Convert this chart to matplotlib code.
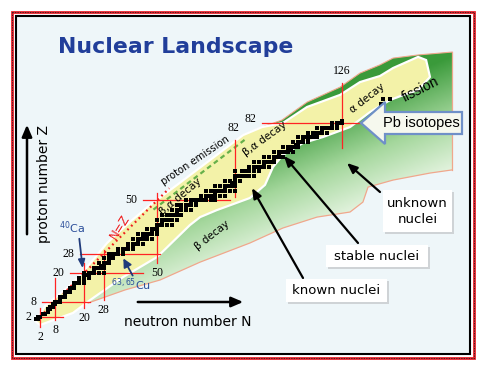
import numpy as np
import matplotlib
matplotlib.use("Agg")
import matplotlib.pyplot as plt
from matplotlib.patches import Polygon, Rectangle
from matplotlib.transforms import Affine2D
from matplotlib.colors import LinearSegmentedColormap

# ---------------- data (N = neutron number, Z = proton number) ----------------
# stable nuclides: neutron numbers for Z = 1..83
stable_Z = list(range(1, 84))
stable_N = [
    [0, 1], [1, 2], [3, 4], [5], [5, 6], [6, 7], [7, 8], [8, 9, 10], [10], [10, 11, 12],
    [12], [12, 13, 14], [14], [14, 15, 16], [16], [16, 17, 18, 20], [18, 20], [18, 20, 22],
    [20, 21, 22], [20, 22, 23, 24, 26, 28], [24], [24, 25, 26, 27, 28], [27, 28],
    [26, 28, 29, 30], [30], [28, 30, 31, 32], [32], [30, 32, 33, 34, 36], [34, 36],
    [34, 36, 37, 38, 40], [38, 40], [38, 40, 41, 42, 44], [42], [40, 42, 43, 44, 46, 48],
    [44, 46], [42, 44, 46, 47, 48, 50], [48, 50], [46, 48, 49, 50], [50],
    [50, 51, 52, 54, 56], [52], [50, 52, 53, 54, 55, 56, 58], [],
    [52, 54, 55, 56, 57, 58, 60], [58], [56, 58, 59, 60, 62, 64], [60, 62],
    [58, 60, 62, 63, 64, 66], [64, 66], [62, 64, 65, 66, 67, 68, 69, 70, 72, 74], [70, 72],
    [68, 70, 71, 72, 74, 76, 78], [74], [70, 72, 74, 75, 76, 77, 78, 80, 82], [78],
    [74, 76, 78, 79, 80, 81, 82], [81, 82], [78, 80, 82, 84], [82],
    [82, 83, 84, 85, 86, 88, 90], [], [82, 85, 86, 87, 88, 90, 92], [88, 90],
    [88, 90, 91, 92, 93, 94, 96], [94], [90, 92, 94, 95, 96, 97, 98], [98],
    [94, 96, 98, 99, 100, 102], [100], [98, 100, 101, 102, 103, 104, 106], [104, 105],
    [102, 104, 105, 106, 107, 108], [107, 108], [106, 108, 109, 110, 112], [110, 112],
    [108, 110, 111, 112, 113, 114, 116], [114, 116], [112, 114, 116, 117, 118, 120], [118],
    [116, 118, 119, 120, 121, 122, 124], [122, 124], [122, 124, 125, 126], [126],
]
# long-lived heavy nuclei (Th, U) near "fission"
heavy_N = [142, 143, 146]
heavy_Z = [90, 92, 92]

# known nuclei (yellow band) outline
known_N = [0, 3.9, 12.9, 17.4, 25.3, 29.4, 38.8, 47.1, 58.2, 71.8, 85.4, 93.2, 101.8,
           111.7, 125.3, 133.5, 141.7, 147.1, 157.4, 160.7, 162.3, 157.4, 151.2,
           145.9, 137.6, 129.4, 118.3, 110.0, 101.8, 97.7, 94.4, 88.2, 74.6, 67.7,
           63.5, 50.0, 36.0, 22.4, 15.4, 1.8]
known_Z = [0, 6.4, 13.8, 17.9, 27.4, 32.4, 41.1, 48.1, 56.4, 66.7, 77.0, 80.3, 82.0,
           88.6, 93.6, 98.9, 101.4, 104.7, 109.3, 108.0, 101.0, 95.6, 93.5,
           91.5, 86.5, 80.3, 76.2, 73.7, 68.8, 63.8, 56.4, 51.0, 46.0, 43.1,
           39.8, 26.6, 18.3, 8.8, 3.5, -1.5]

# unknown nuclei (green region) outline: neutron-rich edge then upper edge
unknown_N = [21.6, 36.8, 51.2, 67.7, 88.2, 101.8, 115.8, 129.4, 134.7, 136.8, 147.1,
             162.3, 171.4, 171.4, 157.4, 147.1, 141.7, 133.5, 125.3, 111.7, 101.4,
             93.2, 85.4, 47.1, 21.6]
unknown_Z = [7.6, 13.0, 17.1, 24.5, 32.4, 38.6, 43.1, 45.2, 49.3, 55.5, 58.4,
             61.3, 62.6, 111.3, 110.1, 108.8, 106.0, 102.6, 96.8, 90.6, 83.2,
             80.3, 77.0, 48.1, 12.9]
n_edge = 13  # number of points on the neutron-rich edge

# proton emission line
pemit_N = [48.5, 86.0]
pemit_Z = [46.2, 75.0]

# N = Z line
nz_line = [2, 55]

# magic numbers
z_magic = [2, 8, 20, 28, 50, 82]
z_magic_nmin = [0.6, 2.6, 14.2, 18.3, 44.2, 93.2]
z_magic_nmax = [11.3, 22.4, 44.2, 51.0, 80.0, 133.5]
n_magic = [2, 8, 20, 28, 50, 82, 126]
n_magic_zmin = [-2.3, 0.6, 5.5, 8.8, 24.0, 51.3, 71.7]
n_magic_zmax = [5.5, 17.9, 24.1, 29.5, 53.0, 75.0, 98.5]

# ---------------- figure ----------------
W, H = 500, 370
fig = plt.figure(figsize=(5, 3.7), dpi=100)
fig.patch.set_facecolor('white')
ax = fig.add_axes([0, 0, 1, 1])
ax.set_axis_off()
PXN, PXZ, X0, Y0 = 2.43, 2.42, 35.6, 321.4
xl = ((0 - X0) / PXN, (W - X0) / PXN)
yl = ((Y0 - H) / PXZ, (Y0 - 0) / PXZ)
ax.set_xlim(*xl)
ax.set_ylim(*yl)
ax.set_autoscale_on(False)
P = Affine2D().scale(1 / W, -1 / H).translate(0, 1) + fig.transFigure

# frame
ax.add_patch(Rectangle((15, 15), 455, 339, transform=P, fc='#eef6f9', ec='none', zorder=0))
ax.add_patch(Rectangle((11.5, 11.5), 462, 346, transform=P, fill=False, ec='#e8202a',
                       lw=2.0, zorder=0.5))
ax.add_patch(Rectangle((11.5, 11.5), 462, 346, transform=P, fill=False, ec='#222222',
                       lw=0.6, ls=(0, (1.5, 1.5)), zorder=0.6))
ax.add_patch(Rectangle((15.5, 15.5), 454, 338, transform=P, fill=False, ec='black',
                       lw=1.5, zorder=0.7))

# green unknown region with gradient
gpatch = Polygon(np.column_stack([unknown_N, unknown_Z]), closed=True, fc='none',
                 ec='none', zorder=1)
ax.add_patch(gpatch)
xx, yy = np.meshgrid(np.linspace(0, W, W), np.linspace(0, H, H))
tt = np.clip(0.6 - 0.0081 * (yy - 110) - 0.0034 * (xx - 440), 0, 1)
gcmap = LinearSegmentedColormap.from_list('g', ['#eef8ea', '#a4d79c', '#3a9a3a'])
im = ax.imshow(tt, cmap=gcmap, vmin=0, vmax=1, extent=(xl[0], xl[1], yl[0], yl[1]),
               origin='upper', aspect='auto', interpolation='bilinear', zorder=1)
im.set_clip_path(gpatch)
ax.plot(unknown_N[:n_edge], unknown_Z[:n_edge], color='#f0a78c', lw=0.9, zorder=1.5)
ax.plot([unknown_N[n_edge - 1], unknown_N[n_edge]], [unknown_Z[n_edge - 1], unknown_Z[n_edge]],
        color='#f0a78c', lw=0.9, zorder=1.5)
ax.plot(unknown_N[n_edge:-2], unknown_Z[n_edge:-2], color='#f0a78c', lw=0.8, zorder=1.5)

# yellow known region
ax.add_patch(Polygon(np.column_stack([known_N, known_Z]), closed=True, fc='#f3f2a8',
                     ec='white', lw=1.6, zorder=2))

# proton emission dashes
ax.plot(pemit_N, pemit_Z, color='#66b04a', lw=1.6, ls=(0, (2.2, 1.6)), zorder=3)

# N = Z dotted line
ax.plot(nz_line, nz_line, color='#ee1c1c', lw=1.6, ls=(0, (0.8, 1.6)), zorder=3)

# magic lines
red = '#ff2323'
serif = 'Liberation Serif'
for z, a, b in zip(z_magic, z_magic_nmin, z_magic_nmax):
    ax.plot([a, b], [z, z], color=red, lw=0.9, zorder=4)
    ax.annotate(str(z), (a, z), xytext=(-4, 0 if z != 82 else 3), textcoords='offset points',
                ha='right', va='center', fontsize=8.5, family=serif, zorder=8)
for n, a, b in zip(n_magic, n_magic_zmin, n_magic_zmax):
    ax.plot([n, n], [a, b], color=red, lw=0.9, zorder=4)
    if n < 80:
        ax.annotate(str(n), (n, a), xytext=(0, -3), textcoords='offset points',
                    ha='center', va='top', fontsize=8.5, family=serif, zorder=8)
    else:
        ax.annotate(str(n), (n, b), xytext=(-1 if n == 82 else 0, 4),
                    textcoords='offset points', ha='center', va='bottom', fontsize=8.5,
                    family=serif, zorder=8)

# stable nuclei squares
sn, sz = [], []
for z, ns in zip(stable_Z, stable_N):
    for n in ns:
        sn.append(n)
        sz.append(z)
ax.scatter(sn, sz, marker='s', s=9.5, c='black', linewidths=0, zorder=5)
ax.scatter(heavy_N, heavy_Z, marker='s', s=9.5, c='black', linewidths=0, zorder=5)

# ---------------- text ----------------
comic = 'DejaVu Sans'
ax.text(176, 53, 'Nuclear Landscape', transform=P, ha='center', va='baseline',
        fontsize=15.8, fontweight='bold', color='#213e9a', family=comic, zorder=9)
ax.text(188, 322, 'neutron number N', transform=P, ha='center', va='center',
        fontsize=10, color='black', family=comic, zorder=9)
ax.text(44, 184, 'proton number Z', transform=P, ha='center', va='center', rotation=90,
        fontsize=10, color='black', family=comic, zorder=9)
ax.annotate('', xy=(246, 302), xytext=(135, 302), xycoords=P, textcoords=P,
            arrowprops=dict(arrowstyle='-|>,head_length=0.7,head_width=0.3', color='black',
                            lw=1.8), zorder=9)
ax.annotate('', xy=(27, 122), xytext=(27, 237), xycoords=P, textcoords=P,
            arrowprops=dict(arrowstyle='-|>,head_length=0.7,head_width=0.3', color='black',
                            lw=1.8), zorder=9)

lab = dict(transform=P, ha='center', va='center', family=comic, color='black', zorder=9)
ax.text(195, 161, 'proton emission', fontsize=7.2, rotation=34, **lab)
ax.text(180, 197, 'β,α decay', fontsize=7.5, rotation=40, **lab)
ax.text(265, 139, 'β,α decay', fontsize=7.5, rotation=36, **lab)
ax.text(367, 98, 'α decay', fontsize=7.5, rotation=38, **lab)
ax.text(212, 235, 'β decay', fontsize=7.5, rotation=38, **lab)
ax.text(421, 89, 'fission', fontsize=10, rotation=27, transform=P, ha='center',
        va='center', family='Liberation Sans', zorder=9)
ax.text(120, 227, 'N=Z', fontsize=8.5, rotation=58, transform=P, ha='center', va='center',
        family=comic, color='#ee1c1c', zorder=9)

blue = '#2b4e9a'
ax.text(72, 228, r'$^{40}$Ca', transform=P, ha='center', va='center', fontsize=8,
        color=blue, family=comic, zorder=9)
ax.annotate('', xy=(83, 271), xytext=(79, 236), xycoords=P, textcoords=P,
            arrowprops=dict(arrowstyle='-|>,head_length=0.5,head_width=0.2', color='#1f3a7a',
                            lw=1.3), zorder=9)
ax.text(131, 285, r'$^{63,65}$Cu', transform=P, ha='center', va='center', fontsize=8,
        color=blue, family=comic, zorder=9)
ax.annotate('', xy=(122, 256), xytext=(134, 278), xycoords=P, textcoords=P,
            arrowprops=dict(arrowstyle='-|>,head_length=0.5,head_width=0.25', color='#1f3a7a',
                            lw=1.3), zorder=9)

# Pb isotopes callout arrow
pb = [(361, 123), (385, 102), (385, 112), (462, 112), (462, 134), (385, 134), (385, 144)]
ax.add_patch(Polygon(pb, closed=True, transform=P, fc='#f6f8ee', ec='#6f90c8', lw=1.6,
                     zorder=9))
ax.text(421, 123, 'Pb isotopes', transform=P, ha='center', va='center', fontsize=10.5,
        family='Liberation Sans', zorder=10)

# pointer arrows
for start, end in [((380, 192), (347, 163)), ((358, 243), (284, 156)), ((303, 278), (252, 188))]:
    ax.annotate('', xy=end, xytext=start, xycoords=P, textcoords=P,
                arrowprops=dict(arrowstyle='-|>,head_length=0.6,head_width=0.25',
                                color='black', lw=1.6, shrinkA=0, shrinkB=0), zorder=9)

# label boxes
boxes = [((383, 190, 69, 42), 'unknown\nnuclei'), ((326, 245, 102, 22), 'stable nuclei'),
         ((286, 279, 101, 23), 'known nuclei')]
for (x, y, w, h), txt in boxes:
    ax.add_patch(Rectangle((x + 2, y + 2), w, h, transform=P, fc='#cfd3d6', ec='none',
                           zorder=9.5))
    ax.add_patch(Rectangle((x, y), w, h, transform=P, fc='white', ec='none', zorder=9.6))
    ax.text(x + w / 2, y + h / 2 + 0.5, txt, transform=P, ha='center', va='center',
            fontsize=9.5, family=comic, linespacing=1.25, zorder=10)

fig.savefig('out.png', dpi=100)
